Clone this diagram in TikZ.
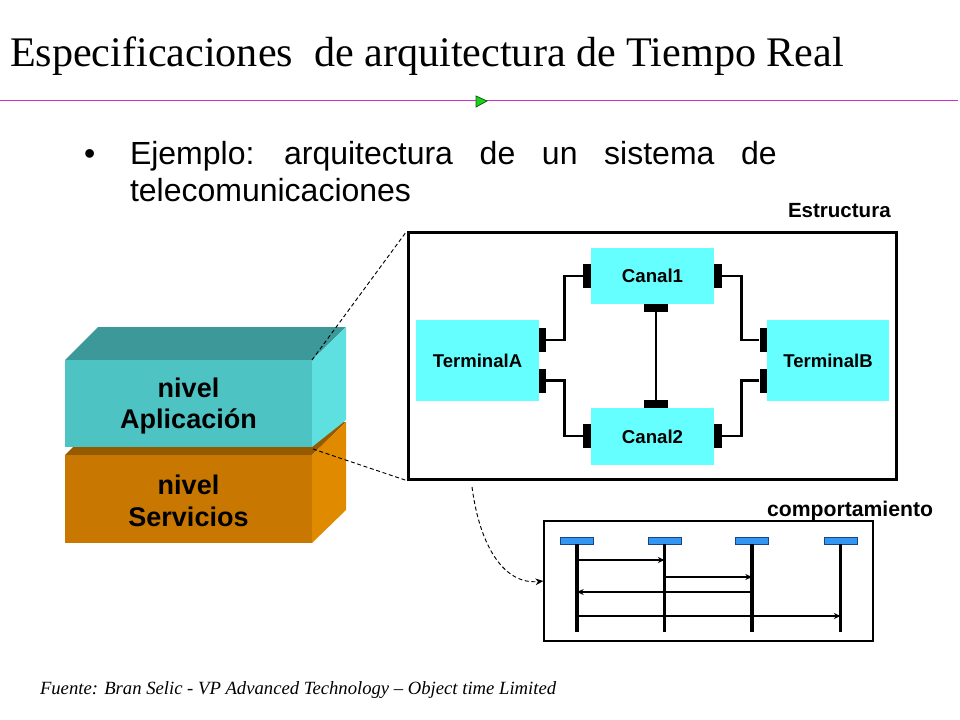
\documentclass[tikz,border=0pt]{standalone}
\usepackage{fontspec}
\setmainfont{Liberation Serif}
\setsansfont{Liberation Sans}
\newfontfamily\arialfont{Liberation Sans}
\usetikzlibrary{arrows.meta}
\newlength{\pxu}
\setlength{\pxu}{0.75pt}
\definecolor{boxcyan}{RGB}{102,255,255}
\definecolor{linemag}{RGB}{204,51,204}
\definecolor{trigreen}{RGB}{34,204,34}
\definecolor{trigreenb}{RGB}{0,110,0}
\definecolor{lifeblue}{RGB}{51,150,240}
\definecolor{lifeblueb}{RGB}{20,70,140}
\definecolor{appfront}{RGB}{77,195,195}
\definecolor{apptop}{RGB}{61,153,153}
\definecolor{appside}{RGB}{94,224,224}
\definecolor{srvfront}{RGB}{200,120,0}
\definecolor{srvtop}{RGB}{150,90,0}
\definecolor{srvside}{RGB}{224,138,0}
\tikzset{
  txt/.style={inner sep=0pt, outer sep=0pt},
  compbox/.style={fill=boxcyan, inner sep=0pt, minimum width=123\pxu, font=\arialfont\bfseries\fontsize{14}{16}\selectfont},
  portv/.style={fill=black, inner sep=0pt, minimum width=8\pxu, minimum height=24\pxu},
  porth/.style={fill=black, inner sep=0pt, minimum width=24\pxu, minimum height=8\pxu},
  wire/.style={line width=2.1pt},
  lifehead/.style={fill=lifeblue, draw=lifeblueb, line width=0.6pt, inner sep=0pt, minimum width=33\pxu, minimum height=7\pxu},
  lifeline/.style={line width=2.6pt},
  msg/.style={line width=2.1pt, -{Stealth[length=5pt,width=4.5pt]}},
  zoomline/.style={line width=0.7pt, dash pattern=on 3pt off 2pt},
  blocktxt/.style={txt, align=center, font=\arialfont\bfseries\fontsize{20.25}{23.5}\selectfont}
}
\begin{document}
\begin{tikzpicture}[x=0.75pt,y=-0.75pt]
\useasboundingbox[fill=white] (0,0) rectangle (960,720);

% title
\node[txt, anchor=base west, font=\fontsize{31.6}{36}\selectfont] (title) at (10,67) {Especificaciones\ \ de arquitectura de Tiempo Real};
\coordinate (rl) at (0,100.5);
\coordinate (rr) at (958,100.5);
\draw[linemag, line width=1.1pt] (rl) -- (rr);
\draw[fill=trigreen, draw=trigreenb, line width=0.6pt] (476,96) -- (487,101) -- (476,107) -- cycle;

% bullet
\node[txt, anchor=base west, font=\arialfont\fontsize{24}{28}\selectfont] (bul) at (84,165) {•};
\node[txt, anchor=base west, font=\arialfont\fontsize{24}{28}\selectfont] (b1) at (130,165) {\spaceskip=20pt\relax Ejemplo: arquitectura de un sistema de};
\node[txt, anchor=base west, font=\arialfont\fontsize{24}{28}\selectfont] (b2) at (130,202) {telecomunicaciones};

% blocks
\fill[srvtop] (65,455) -- (98,422) -- (346,422) -- (312,455) -- cycle;
\fill[srvfront] (65,455) rectangle (312,543);
\fill[srvside] (312,455) -- (346,422) -- (346,510) -- (312,543) -- cycle;
\fill[apptop] (65,360) -- (98,327) -- (346,327) -- (312,360) -- cycle;
\fill[appfront] (65,360) rectangle (312,447);
\fill[appside] (312,360) -- (346,327) -- (346,420) -- (312,447) -- cycle;
\node[blocktxt] (app) at (188.5,406) {nivel\\Aplicación};
\node[blocktxt] (srv) at (188.5,501) {nivel\\Servicios};
\coordinate (appc) at (312,360);
\coordinate (srvc) at (313,449);

% structure
\node[txt, anchor=base west, font=\arialfont\bfseries\fontsize{15.4}{18}\selectfont] (estr) at (788,217.5) {Estructura};
\node[draw, line width=2.25pt, inner sep=0pt, minimum width=488\pxu, minimum height=246\pxu] (sbox) at (652,356) {};
\node[compbox, minimum height=56\pxu] (c1) at (652.5,276) {Canal1};
\node[compbox, minimum height=57\pxu] (c2) at (652.5,436.5) {Canal2};
\node[compbox, minimum height=81\pxu, font=\arialfont\bfseries\fontsize{13.9}{16}\selectfont] (ta) at (477.5,360.5) {TerminalA};
\node[compbox, minimum height=81\pxu, minimum width=122\pxu, font=\arialfont\bfseries\fontsize{13.9}{16}\selectfont] (tb) at (828,360.5) {TerminalB};
\node[portv] (c1l) at (587,276) {};
\node[portv] (c1r) at (718,276) {};
\node[porth] (c1b) at (656,308) {};
\node[porth] (c2t) at (656,404) {};
\node[portv] (c2l) at (587,436) {};
\node[portv] (c2r) at (718,436) {};
\node[portv, minimum width=7\pxu] (tau) at (542.5,340) {};
\node[portv, minimum width=7\pxu] (tal) at (542.5,380.5) {};
\node[portv, minimum width=7\pxu] (tbu) at (763,340) {};
\node[portv, minimum width=7\pxu] (tbl) at (763,380.5) {};
\draw[wire] (tau.east) -- ++(18,0) |- (c1l.west);
\draw[wire] (tal.east) -- ++(18,0) |- (c2l.west);
\draw[wire] (c1r.east) -- ++(19,0) |- (tbu.west);
\draw[wire] (c2r.east) -- ++(19,0) |- (tbl.west);
\draw[wire] (c1b.south) -- (c2t.north);

% zoom lines
\draw[zoomline] (appc) -- (sbox.north west);
\draw[zoomline] (srvc) -- (sbox.south west);

% behaviour
\node[txt, anchor=base west, font=\arialfont\bfseries\fontsize{15.9}{18}\selectfont] (comp) at (767,516) {comportamiento};
\node[draw, line width=0.9pt, inner sep=0pt, minimum width=329\pxu, minimum height=120\pxu] (bbox) at (708.5,581) {};
\node[lifehead] (h1) at (577,540.5) {};
\node[lifehead] (h2) at (664.5,540.5) {};
\node[lifehead] (h3) at (752,540.5) {};
\node[lifehead] (h4) at (840.5,540.5) {};
\coordinate (yb) at (0,632);
\coordinate (y1) at (0,560);
\coordinate (y2) at (0,577);
\coordinate (y3) at (0,592);
\coordinate (y4) at (0,616);
\foreach \h in {h1,h2,h3,h4} \draw[lifeline] (\h.south) -- (\h.south |- yb);
\draw[msg] (h1 |- y1) -- (h2 |- y1);
\draw[msg] (h2 |- y2) -- (h3 |- y2);
\draw[msg] (h3 |- y3) -- (h1 |- y3);
\draw[msg] (h1 |- y4) -- (h4 |- y4);

\coordinate (cs) at (472,487);
\draw[zoomline, -{Stealth[length=6pt,width=5pt]}] (cs) .. controls (480,548) and (505,585) .. (bbox.west);

% footer
\node[txt, anchor=base west, font=\itshape\fontsize{14}{16}\selectfont] (foot) at (40,694) {Fuente: Bran Selic - VP Advanced Technology – Object time Limited};
\end{tikzpicture}
\end{document}
